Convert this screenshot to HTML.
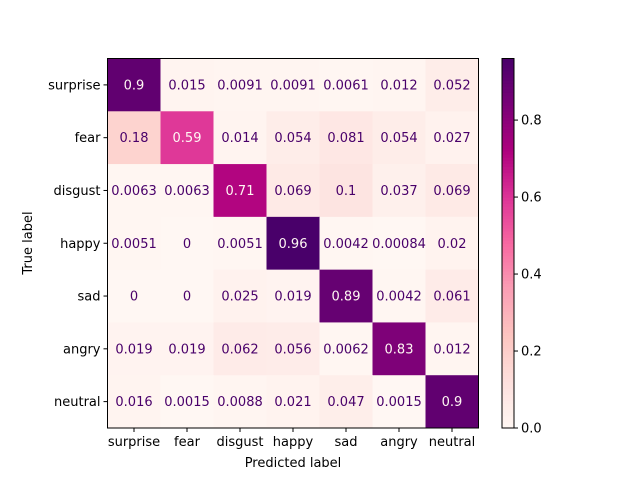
<!DOCTYPE html>
<html><head><meta charset="utf-8">
<style>
html,body{margin:0;padding:0;background:#fff;}
svg{display:block;font-family:"DejaVu Sans","Liberation Sans",sans-serif;}
</style></head>
<body>
<svg id="chart" width="640" height="480" viewBox="0 0 640 480" xmlns="http://www.w3.org/2000/svg">
<rect width="640" height="480" fill="#fff"/>
</svg>
<script>
const labels = ["surprise","fear","disgust","happy","sad","angry","neutral"];
const values = [
 [0.9,0.015,0.0091,0.0091,0.0061,0.012,0.052],
 [0.18,0.59,0.014,0.054,0.081,0.054,0.027],
 [0.0063,0.0063,0.71,0.069,0.1,0.037,0.069],
 [0.0051,0,0.0051,0.96,0.0042,0.00084,0.02],
 [0,0,0.025,0.019,0.89,0.0042,0.061],
 [0.019,0.019,0.062,0.056,0.0062,0.83,0.012],
 [0.016,0.0015,0.0088,0.021,0.047,0.0015,0.9]
];
const printed = [
 ["0.9","0.015","0.0091","0.0091","0.0061","0.012","0.052"],
 ["0.18","0.59","0.014","0.054","0.081","0.054","0.027"],
 ["0.0063","0.0063","0.71","0.069","0.1","0.037","0.069"],
 ["0.0051","0","0.0051","0.96","0.0042","0.00084","0.02"],
 ["0","0","0.025","0.019","0.89","0.0042","0.061"],
 ["0.019","0.019","0.062","0.056","0.0062","0.83","0.012"],
 ["0.016","0.0015","0.0088","0.021","0.047","0.0015","0.9"]
];
const cbTicks = [0.0,0.2,0.4,0.6,0.8];
const cbTickLabels = ["0.0","0.2","0.4","0.6","0.8"];

const NS="http://www.w3.org/2000/svg";
const svg=document.getElementById('chart');
function mk(t,a,p){const e=document.createElementNS(NS,t);for(const k in a)e.setAttribute(k,a[k]);(p||svg).appendChild(e);return e;}
const RdPu=["#fff7f3","#fde0dd","#fcc5c0","#fa9fb5","#f768a1","#dd3497","#ae017e","#7a0177","#49006a"];
function hx(h){return [1,3,5].map(i=>parseInt(h.substr(i,2),16));}
function cmap(t){t=Math.max(0,Math.min(1,t));const s=t*(RdPu.length-1);const i=Math.min(Math.floor(s),RdPu.length-2);const f=s-i;const a=hx(RdPu[i]),b=hx(RdPu[i+1]);return "rgb("+a.map((v,k)=>Math.round(v+(b[k]-v)*f)).join(",")+")";}
let vmin=Infinity,vmax=-Infinity;values.forEach(r=>r.forEach(v=>{vmin=Math.min(vmin,v);vmax=Math.max(vmax,v);}));
const X0=107.5,X1=478.5,Y0=58.5,Y1=428;
const n=labels.length,cw=(X1-X0)/n,ch=(Y1-Y0)/n;
const xs=i=>X0+i*cw, ys=i=>Y0+i*ch;
const thresh=(vmax+vmin)/2;
const g=mk('g',{});


values.forEach((row,r)=>row.forEach((v,c)=>{
  const rc=mk('rect',{x:xs(c),y:ys(r),width:cw+0.5,height:ch+0.5,fill:cmap((v-vmin)/(vmax-vmin))},g);
  
  
}));
values.forEach((row,r)=>row.forEach((v,c)=>{
  const t=mk('text',{x:xs(c)+cw/2,y:ys(r)+ch/2+4.5,'text-anchor':'middle','font-size':13,fill:v>thresh?cmap(0):cmap(1)});
  t.textContent=printed[r][c];
  
  
}));
const fr=mk('rect',{x:X0,y:Y0,width:X1-X0,height:Y1-Y0,fill:'none',stroke:'#000','stroke-width':1});


labels.forEach((l,i)=>{
  const cx=xs(i)+cw/2;
  mk('line',{x1:cx,x2:cx,y1:Y1,y2:Y1+4,stroke:'#000'});
  const t=mk('text',{x:cx,y:Y1+18,'text-anchor':'middle','font-size':13});
  t.textContent=l;
  
  
  const cy=ys(i)+ch/2;
  mk('line',{x1:X0-4,x2:X0,y1:cy,y2:cy,stroke:'#000'});
  const t2=mk('text',{x:X0-7,y:cy+4.5,'text-anchor':'end','font-size':13});
  t2.textContent=l;
  
  
});
const xt=mk('text',{x:(X0+X1)/2,y:467,'text-anchor':'middle','font-size':13});
xt.textContent='Predicted label';


const yt=mk('text',{x:0,y:0,'text-anchor':'middle','font-size':13,transform:'translate(32,243) rotate(-90)'});
yt.textContent='True label';


const CX0=502,CX1=514,CB0=Y1,CB1=Y0;
const cbY=v=>CB0+(CB1-CB0)*(v-vmin)/(vmax-vmin);
const cb=mk('g',{});


const N=120;
for(let k=0;k<N;k++){
  const a=vmin+(vmax-vmin)*k/N,b=vmin+(vmax-vmin)*(k+1)/N;
  mk('rect',{x:CX0,y:cbY(b),width:CX1-CX0,height:cbY(a)-cbY(b)+0.6,fill:cmap((a+b)/2/(vmax-vmin))},cb);
}
mk('rect',{x:CX0,y:CB1,width:CX1-CX0,height:CB0-CB1,fill:'none',stroke:'#000'},cb);
cbTicks.forEach((v,i)=>{
  const y=cbY(v);
  mk('line',{x1:CX1,x2:CX1+4,y1:y,y2:y,stroke:'#000'},cb);
  const t=mk('text',{x:CX1+7,y:y+4.5,'font-size':13},cb);
  t.textContent=cbTickLabels[i];
  
  
});
</script>
</body></html>
